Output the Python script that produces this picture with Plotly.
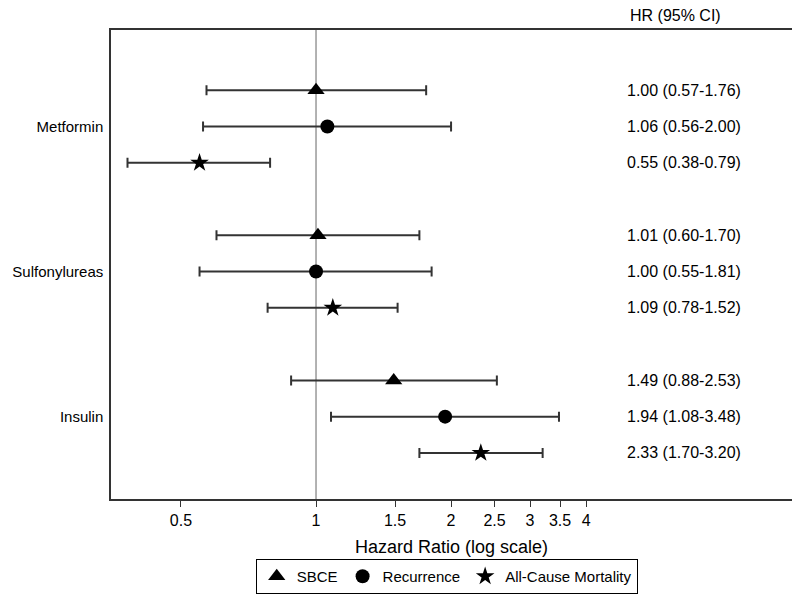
import plotly.graph_objects as go

drugs = ["Metformin", "Sulfonylureas", "Insulin"]
outcomes = ["SBCE", "Recurrence", "All-Cause Mortality"]
symbols = ["triangle-up", "circle", "star"]
marker_sizes = [15, 14, 14]

# hazard ratios and 95% CI per outcome, one value per drug
sbce_hr = [1.00, 1.01, 1.49]
sbce_lo = [0.57, 0.60, 0.88]
sbce_hi = [1.76, 1.70, 2.53]

rec_hr = [1.06, 1.00, 1.94]
rec_lo = [0.56, 0.55, 1.08]
rec_hi = [2.00, 1.81, 3.48]

mort_hr = [0.55, 1.09, 2.33]
mort_lo = [0.38, 0.78, 1.70]
mort_hi = [0.79, 1.52, 3.20]

xtick_vals = [0.5, 1, 1.5, 2, 2.5, 3, 3.5, 4]
xtick_text = ["0.5", "1", "1.5", "2", "2.5", "3", "3.5", "4"]

series = [
    (sbce_hr, sbce_lo, sbce_hi),
    (rec_hr, rec_lo, rec_hi),
    (mort_hr, mort_lo, mort_hi),
]

FONT = "Arial, Liberation Sans, sans-serif"

fig = go.Figure()
for j, (hr, lo, hi) in enumerate(series):
    rows = [4 * i + j for i in range(len(drugs))]
    fig.add_trace(
        go.Scatter(
            x=hr,
            y=rows,
            mode="markers",
            name=outcomes[j],
            marker=dict(symbol=symbols[j], size=marker_sizes[j], color="black"),
            error_x=dict(
                type="data",
                symmetric=False,
                array=[h - m for h, m in zip(hi, hr)],
                arrayminus=[m - l for m, l in zip(hr, lo)],
                color="#333333",
                thickness=2,
                width=5,
            ),
        )
    )
    for i in range(len(drugs)):
        fig.add_annotation(
            x=0.755,
            xref="paper",
            y=rows[i],
            yref="y",
            text=f"{hr[i]:.2f} ({lo[i]:.2f}-{hi[i]:.2f})",
            showarrow=False,
            xanchor="left",
            font=dict(size=16, color="black", family=FONT),
        )

# column header, a few pixels above the plot area
fig.add_annotation(
    x=0.759,
    xref="paper",
    y=1,
    yref="paper",
    yanchor="middle",
    yshift=15,
    text="HR (95% CI)",
    showarrow=False,
    xanchor="left",
    font=dict(size=16, color="black", family=FONT),
)

fig.add_shape(
    type="line",
    x0=1, x1=1, xref="x",
    y0=0, y1=1, yref="paper",
    line=dict(color="#999999", width=1.5),
    layer="below",
)

fig.update_layout(
    width=800,
    height=595,
    margin=dict(l=103, r=16, t=22, b=104, autoexpand=False),
    plot_bgcolor="white",
    paper_bgcolor="white",
    font=dict(family=FONT, size=16, color="black"),
    showlegend=True,
    legend=dict(
        orientation="h",
        x=0.493,
        xanchor="center",
        y=-0.128,
        yanchor="top",
        bordercolor="black",
        borderwidth=1,
        itemwidth=30,
        tracegroupgap=0,
        font=dict(size=15),
    ),
)

fig.update_xaxes(
    type="log",
    range=[-0.457, 1.061],
    tickvals=xtick_vals,
    ticktext=xtick_text,
    ticks="outside",
    ticklen=6,
    tickcolor="#333333",
    showgrid=False,
    zeroline=False,
    showline=True,
    mirror=True,
    linecolor="#333333",
    linewidth=1.5,
    automargin=False,
    title=dict(text="Hazard Ratio (log scale)", font=dict(size=18), standoff=12),
)

fig.update_yaxes(
    range=[11.27, -1.66],
    tickvals=[4 * i + 1 for i in range(len(drugs))],
    ticktext=drugs,
    tickfont=dict(size=15),
    ticks="",
    ticklabelstandoff=3,
    showgrid=False,
    zeroline=False,
    showline=True,
    mirror=True,
    linecolor="#333333",
    linewidth=1.5,
    automargin=False,
)

fig.write_html("out.html")
